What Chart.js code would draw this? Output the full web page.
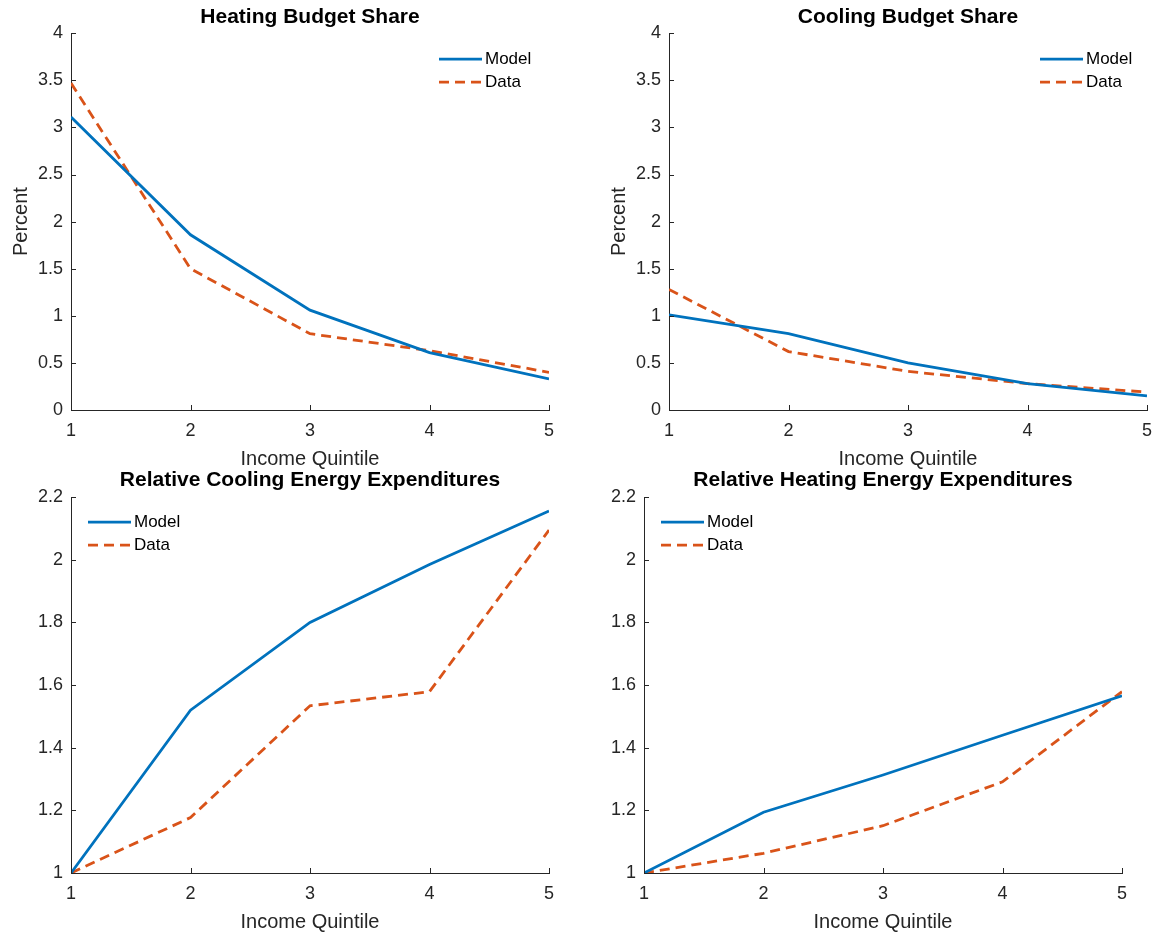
<!DOCTYPE html>
<html>
<head>
<meta charset="utf-8">
<title>Budget shares and relative expenditures</title>
<script src="https://cdn.jsdelivr.net/npm/chart.js@4.4.1/dist/chart.umd.min.js"></script>
<style>
  html, body { margin: 0; padding: 0; background: #fff; overflow: hidden; }
  #wrap { position: relative; width: 1156px; height: 934px; }
  #wrap canvas { position: absolute; }
</style>
</head>
<body>
<div id="wrap">
  <canvas id="heatShare"></canvas>
  <canvas id="coolShare"></canvas>
  <canvas id="relCool"></canvas>
  <canvas id="relHeat"></canvas>
</div>
<script>
// values
const quintiles = [1, 2, 3, 4, 5];

const heatShareModel = [3.11, 1.86, 1.06, 0.61, 0.33];
const heatShareData  = [3.47, 1.50, 0.81, 0.63, 0.40];

const coolShareModel = [1.01, 0.81, 0.50, 0.28, 0.15];
const coolShareData  = [1.28, 0.62, 0.41, 0.28, 0.19];

const relCoolModel = [1, 1.52, 1.80, 1.985, 2.156];
const relCoolData  = [1, 1.177, 1.534, 1.579, 2.095];

const relHeatModel = [1, 1.194, 1.313, 1.44, 1.566];
const relHeatData  = [1, 1.063, 1.151, 1.291, 1.579];

const shareTicks = [0, 0.5, 1, 1.5, 2, 2.5, 3, 3.5, 4];
const relTicks = [1, 1.2, 1.4, 1.6, 1.8, 2, 2.2];

const family = '"Liberation Sans", Arial, Helvetica, sans-serif';
const axisColor = '#262626';
const blue = '#0072BD';
const orange = '#D95319';

Chart.defaults.font.family = family;
Chart.defaults.color = axisColor;

// legend drawn inside the axes, like matlab's
const insideLegend = {
    id: 'insideLegend',
    afterDraw(chart, args, opts) {
        const ctx = chart.ctx;
        const area = chart.chartArea;
        const x0 = area.left + opts.x;
        chart.data.datasets.forEach((ds, i) => {
            const y = area.top + opts.y + i * 23;
            ctx.save();
            ctx.strokeStyle = ds.borderColor;
            ctx.lineWidth = ds.borderWidth;
            ctx.setLineDash(ds.borderDash || []);
            ctx.beginPath();
            ctx.moveTo(x0, y);
            ctx.lineTo(x0 + 43, y);
            ctx.stroke();
            ctx.setLineDash([]);
            ctx.fillStyle = '#000';
            ctx.font = '17px ' + family;
            ctx.textBaseline = 'middle';
            ctx.fillText(ds.label, x0 + 46, y);
            ctx.restore();
        });
    }
};

// short tick marks pointing into the plot
const inwardTicks = {
    id: 'inwardTicks',
    afterDatasetsDraw(chart) {
        const {ctx, chartArea: a, scales: {x, y}} = chart;
        ctx.save();
        ctx.strokeStyle = axisColor;
        ctx.lineWidth = 1;
        ctx.beginPath();
        x.ticks.forEach(t => {
            const px = Math.round(x.getPixelForValue(t.value)) + 0.5;
            ctx.moveTo(px, a.bottom);
            ctx.lineTo(px, a.bottom - 5);
        });
        y.ticks.forEach(t => {
            const py = Math.round(y.getPixelForValue(t.value)) + 0.5;
            ctx.moveTo(a.left, py);
            ctx.lineTo(a.left + 5, py);
        });
        ctx.stroke();
        ctx.restore();
    }
};

const panels = [
    { id: 'heatShare', title: 'Heating Budget Share', model: heatShareModel, data: heatShareData,
      yTicks: shareTicks, yLabel: 'Percent', left: 0, top: 0, height: 472, titlePadBottom: 3,
      xAxisH: 62, xTitlePad: 1, legendX: 368, legendY: 26 },
    { id: 'coolShare', title: 'Cooling Budget Share', model: coolShareModel, data: coolShareData,
      yTicks: shareTicks, yLabel: 'Percent', left: 598, top: 0, height: 472, titlePadBottom: 3,
      xAxisH: 62, xTitlePad: 1, legendX: 371, legendY: 26 },
    { id: 'relCool', title: 'Relative Cooling Energy Expenditures', model: relCoolModel, data: relCoolData,
      yTicks: relTicks, yLabel: '', left: 0, top: 463, height: 471, titlePadBottom: 4,
      xAxisH: 61, xTitlePad: 0, legendX: 17, legendY: 25 },
    { id: 'relHeat', title: 'Relative Heating Energy Expenditures', model: relHeatModel, data: relHeatData,
      yTicks: relTicks, yLabel: '', left: 573, top: 463, height: 471, titlePadBottom: 4,
      xAxisH: 61, xTitlePad: 0, legendX: 17, legendY: 25 }
];

const fmt = v => String(+Number(v).toFixed(2));

panels.forEach(p => {
    const canvas = document.getElementById(p.id);
    canvas.width = 574;
    canvas.height = p.height;
    canvas.style.left = p.left + 'px';
    canvas.style.top = p.top + 'px';

    new Chart(canvas, {
        type: 'line',
        data: {
            labels: quintiles,
            datasets: [
                { label: 'Model', data: p.model, borderColor: blue, borderWidth: 2.8,
                  pointRadius: 0, tension: 0, fill: false },
                { label: 'Data', data: p.data, borderColor: orange, borderWidth: 2.8,
                  borderDash: [10, 6], pointRadius: 0, tension: 0, fill: false }
            ]
        },
        options: {
            responsive: false,
            animation: false,
            events: [],
            layout: { padding: { left: 0, right: 25, top: 0, bottom: 0 } },
            plugins: {
                legend: { display: false },
                tooltip: { enabled: false },
                title: {
                    display: true,
                    text: p.title,
                    fullSize: false,
                    color: '#000',
                    font: { size: 21, weight: 'bold', family: family },
                    padding: { top: 5, bottom: p.titlePadBottom }
                },
                insideLegend: { x: p.legendX, y: p.legendY }
            },
            scales: {
                x: {
                    type: 'linear',
                    min: quintiles[0],
                    max: quintiles[quintiles.length - 1],
                    afterBuildTicks: s => { s.ticks = quintiles.map(v => ({ value: v })); },
                    afterFit: s => { s.height = p.xAxisH; },
                    grid: { display: false, drawTicks: false },
                    border: { display: true, color: axisColor, width: 1 },
                    ticks: { color: axisColor, font: { size: 18 }, padding: 10,
                             maxRotation: 0, autoSkip: false, callback: fmt },
                    title: { display: true, text: 'Income Quintile', color: axisColor,
                             font: { size: 20 }, padding: { top: 0, bottom: p.xTitlePad } }
                },
                y: {
                    type: 'linear',
                    min: p.yTicks[0],
                    max: p.yTicks[p.yTicks.length - 1],
                    afterBuildTicks: s => { s.ticks = p.yTicks.map(v => ({ value: v })); },
                    afterFit: s => { s.width = 71; },
                    grid: { display: false, drawTicks: false },
                    border: { display: true, color: axisColor, width: 1 },
                    ticks: { color: axisColor, font: { size: 18 }, padding: 8, callback: fmt },
                    title: { display: p.yLabel !== '', text: p.yLabel, color: axisColor,
                             font: { size: 20 }, padding: { top: 9, bottom: 0 } }
                }
            }
        },
        plugins: [insideLegend, inwardTicks]
    });
});
</script>
</body>
</html>
